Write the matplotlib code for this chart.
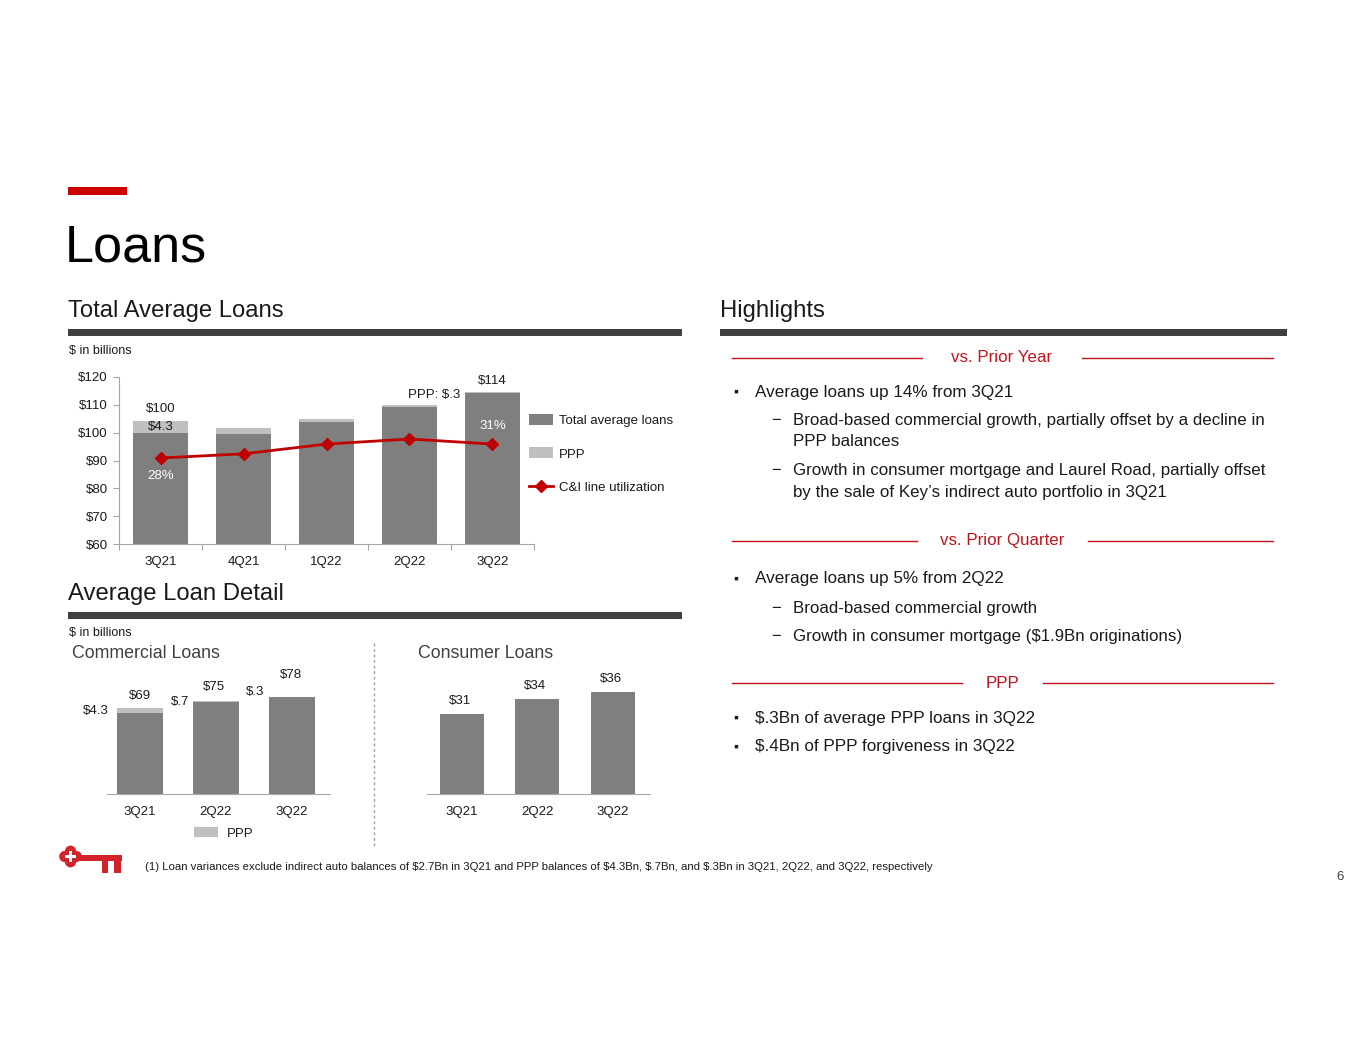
import matplotlib
matplotlib.use("Agg")
import matplotlib.pyplot as plt
from matplotlib.patches import Rectangle, Circle

plt.rcParams['font.family'] = ['Liberation Sans', 'DejaVu Sans']
plt.rcParams['text.parse_math'] = False

# ---------------- data ----------------
quarters = ["3Q21", "4Q21", "1Q22", "2Q22", "3Q22"]
avg_loans_ex_ppp = [100.0, 99.4, 103.8, 109.1, 114.2]
ppp_balances = [4.3, 2.3, 1.1, 0.7, 0.3]
ci_utilization = [28.0, 28.9, 31.0, 32.1, 31.0]

detail_quarters = ["3Q21", "2Q22", "3Q22"]
commercial_total = [69.0, 75.0, 78.0]
commercial_ppp = [4.3, 0.7, 0.3]
consumer_total = [31.0, 34.4, 35.9]
commercial_labels = ["$69", "$75", "$78"]
commercial_ppp_labels = ["$4.3", "$.7", "$.3"]
consumer_labels = ["$31", "$34", "$36"]

W, H = 1365, 1055
DARK = '#7F7F7F'
LIGHT = '#BFBFBF'
RED = '#C00000'
HRED = '#C0141E'
AXC = '#A6A6A6'
TXT = '#1A1A1A'

fig = plt.figure(figsize=(W / 100, H / 100), dpi=100)


def fax(x0, y_bottom, w, h):
    return fig.add_axes([x0 / W, 1 - y_bottom / H, w / W, h / H])


# ---------------- main chart ----------------
ax1 = fax(119, 544, 415, 167)
xs = list(range(len(quarters)))
b_dark = ax1.bar(xs, avg_loans_ex_ppp, width=0.66, color=DARK, zorder=2)
b_ppp = ax1.bar(xs, ppp_balances, width=0.66, bottom=avg_loans_ex_ppp, color=LIGHT, zorder=2)
ax1.set_xlim(-0.5, len(quarters) - 0.5)
ax1.set_ylim(60, 120)
ax1.set_yticks(range(60, 121, 10))
ax1.set_yticklabels([f"${v}" for v in range(60, 121, 10)])
ax1.set_xticks([i - 0.5 for i in range(len(quarters) + 1)])
ax1.set_xticklabels([])
ax1.set_xticks(xs, minor=True)
ax1.set_xticklabels(quarters, minor=True)
ax1.tick_params(axis='x', which='major', length=4, color=AXC)
ax1.tick_params(axis='x', which='minor', length=0, pad=9, labelsize=9.5, labelcolor=TXT)
ax1.tick_params(axis='y', length=4, color=AXC, labelsize=9.5, labelcolor=TXT, pad=4)
for s in ['top', 'right']:
    ax1.spines[s].set_visible(False)
for s in ['left', 'bottom']:
    ax1.spines[s].set_color(AXC)

ax2 = ax1.twinx()
ax2.set_ylim(9.46, 45.46)
line, = ax2.plot(xs, ci_utilization, color=RED, lw=2, marker='D', markersize=6, zorder=3)
ax2.axis('off')

totals = [a + b for a, b in zip(avg_loans_ex_ppp, ppp_balances)]
ax1.annotate("$100", xy=(0, totals[0]), xytext=(0, 12), textcoords='offset pixels',
             ha='center', va='center', fontsize=9.5, color=TXT)
ax1.annotate("$4.3", xy=(0, avg_loans_ex_ppp[0] + ppp_balances[0] / 2), xytext=(0, 0),
             textcoords='offset pixels', ha='center', va='center', fontsize=9.5, color=TXT, zorder=4)
ax1.annotate("$114", xy=(4, totals[4]), xytext=(0, 11), textcoords='offset pixels',
             ha='center', va='center', fontsize=9.5, color=TXT)
ax1.annotate("PPP: $.3", xy=(4, totals[4]), xytext=(-32, -3), textcoords='offset pixels',
             ha='right', va='center', fontsize=9.5, color=TXT)
ax2.annotate("28%", xy=(0, ci_utilization[0]), xytext=(0, -18), textcoords='offset pixels',
             ha='center', va='center', fontsize=9.5, color='white')
ax2.annotate("31%", xy=(4, ci_utilization[4]), xytext=(0, 18), textcoords='offset pixels',
             ha='center', va='center', fontsize=9.5, color='white')

fig.legend([b_dark, b_ppp, line], ["Total average loans", "PPP", "C&I line utilization"],
           loc='upper left', bbox_to_anchor=(529 / W, 1 - 414 / H), frameon=False,
           fontsize=9.5, handlelength=1.8, handleheight=0.9, labelspacing=1.55,
           handletextpad=0.5, borderpad=0, borderaxespad=0, labelcolor=TXT)

# ---------------- commercial ----------------
axc = fax(107, 794, 223, 114)
dx = list(range(len(detail_quarters)))
com_dark = [t - p for t, p in zip(commercial_total, commercial_ppp)]
axc.bar(dx, com_dark, width=0.605, color=DARK)
c_ppp = axc.bar(dx, commercial_ppp, width=0.605, bottom=com_dark, color=LIGHT)
axc.set_xlim(-0.43, 2.5)
axc.set_ylim(0, 91.6)
axc.set_yticks([])
axc.set_xticks(dx)
axc.set_xticklabels(detail_quarters)
axc.tick_params(axis='x', length=0, pad=9, labelsize=9.5, labelcolor=TXT)
for s in ['top', 'right', 'left']:
    axc.spines[s].set_visible(False)
axc.spines['bottom'].set_color(AXC)
axc.patch.set_visible(False)

tot_off = [(0, 12), (-2, 14), (-1, 22)]
ppp_off = [(-44, -3), (-36, -1), (-37, 5)]
for i in dx:
    axc.annotate(commercial_labels[i], xy=(i, commercial_total[i]), xytext=tot_off[i],
                 textcoords='offset pixels', ha='center', va='center', fontsize=9.5, color=TXT)
    axc.annotate(commercial_ppp_labels[i], xy=(i, commercial_total[i]), xytext=ppp_off[i],
                 textcoords='offset pixels', ha='center', va='center', fontsize=9.5, color=TXT)

fig.legend([c_ppp], ["PPP"], loc='upper left', bbox_to_anchor=(194 / W, 1 - 827 / H),
           frameon=False, fontsize=9.5, handlelength=1.8, handleheight=0.8,
           handletextpad=0.7, borderpad=0, borderaxespad=0, labelcolor=TXT)

# ---------------- consumer ----------------
axk = fax(427, 794, 223, 114)
axk.bar(dx, consumer_total, width=0.585, color=DARK)
axk.set_xlim(-0.46, 2.49)
axk.set_ylim(13, 38.6)
axk.set_yticks([])
axk.set_xticks(dx)
axk.set_xticklabels(detail_quarters)
axk.tick_params(axis='x', length=0, pad=9, labelsize=9.5, labelcolor=TXT)
for s in ['top', 'right', 'left']:
    axk.spines[s].set_visible(False)
axk.spines['bottom'].set_color(AXC)
axk.patch.set_visible(False)
for i in dx:
    axk.annotate(consumer_labels[i], xy=(i, consumer_total[i]), xytext=(-2, 13),
                 textcoords='offset pixels', ha='center', va='center', fontsize=9.5, color=TXT)

# ---------------- overlay (page furniture) ----------------
ov = fig.add_axes([0, 0, 1, 1])
ov.set_xlim(0, W)
ov.set_ylim(H, 0)
ov.axis('off')
ov.patch.set_visible(False)

ov.add_patch(Rectangle((68, 187), 59, 8, color='#CC0000', lw=0))
ov.text(65, 262, "Loans", fontsize=37.5, color='black', va='baseline', ha='left')

def header(x, y, text, x1):
    ov.text(x, y, text, fontsize=17.2, color=TXT, va='center', ha='left')
    ov.add_patch(Rectangle((x, y + 17.5), x1 - x, 7, color='#404040', lw=0))

header(68, 311, "Total Average Loans", 682)
header(720, 311, "Highlights", 1287)
header(68, 594, "Average Loan Detail", 682)

ov.text(69, 351, "$ in billions", fontsize=9, color=TXT, va='center')
ov.text(69, 633, "$ in billions", fontsize=9, color=TXT, va='center')
ov.text(72, 654, "Commercial Loans", fontsize=12.8, color='#404040', va='center')
ov.text(418, 654, "Consumer Loans", fontsize=12.8, color='#404040', va='center')
ov.plot([374, 374], [643, 846], color='#A0A0A0', lw=1, ls=(0, (2, 2)))

# highlights
def divider(y, text, l_end, r_start):
    ov.plot([732, l_end], [y, y], color=HRED, lw=1)
    ov.plot([r_start, 1273], [y, y], color=HRED, lw=1)
    ov.text((l_end + r_start) / 2, y, text, fontsize=12.2, color=HRED, ha='center', va='center')

def bullet(y, text):
    ov.text(733, y, "\u25aa", fontsize=10, color=TXT, ha='left', va='center')
    ov.text(755, y, text, fontsize=12.3, color=TXT, ha='left', va='center')

def sub(y, text, dash=True):
    if dash:
        ov.text(771, y, "\u2212", fontsize=12, color=TXT, ha='left', va='center')
    ov.text(793, y, text, fontsize=12.2, color=TXT, ha='left', va='center')

divider(358, "vs. Prior Year", 922, 1082)
bullet(392, "Average loans up 14% from 3Q21")
sub(421, "Broad-based commercial growth, partially offset by a decline in")
sub(442, "PPP balances", dash=False)
sub(471, "Growth in consumer mortgage and Laurel Road, partially offset")
sub(492, "by the sale of Key\u2019s indirect auto portfolio in 3Q21", dash=False)

divider(541, "vs. Prior Quarter", 917, 1088)
bullet(579, "Average loans up 5% from 2Q22")
sub(608, "Broad-based commercial growth")
sub(637, "Growth in consumer mortgage ($1.9Bn originations)")

divider(683, "PPP", 962, 1043)
bullet(718, "$.3Bn of average PPP loans in 3Q22")
bullet(747, "$.4Bn of PPP forgiveness in 3Q22")

# key logo
KR = '#D2232A'
for cx, cy in [(64.8, 856.5), (76.2, 856.5), (70.5, 851.2), (70.5, 861.8)]:
    ov.add_patch(Circle((cx, cy), 5.6, color=KR, lw=0))
ov.add_patch(Rectangle((65, 851), 11, 11, color=KR, lw=0))
ov.add_patch(Rectangle((65.0, 855.1), 11, 2.9, color='white', lw=0))
ov.add_patch(Rectangle((69.05, 851.0), 2.9, 11, color='white', lw=0))
ov.add_patch(Rectangle((80, 855), 42, 5.5, color=KR, lw=0))
ov.add_patch(Rectangle((101.5, 859), 6.5, 14, color=KR, lw=0))
ov.add_patch(Rectangle((113.5, 859), 7.5, 14, color=KR, lw=0))

ov.text(145, 867, "(1) Loan variances exclude indirect auto balances of $2.7Bn in 3Q21 and PPP balances of "
        "$4.3Bn, $.7Bn, and $.3Bn in 3Q21, 2Q22, and 3Q22, respectively",
        fontsize=8.2, color=TXT, va='center', ha='left')
ov.text(1340, 877, "6", fontsize=9.5, color='#404040', va='center', ha='center')

fig.savefig("out.png", dpi=100, facecolor='white')
